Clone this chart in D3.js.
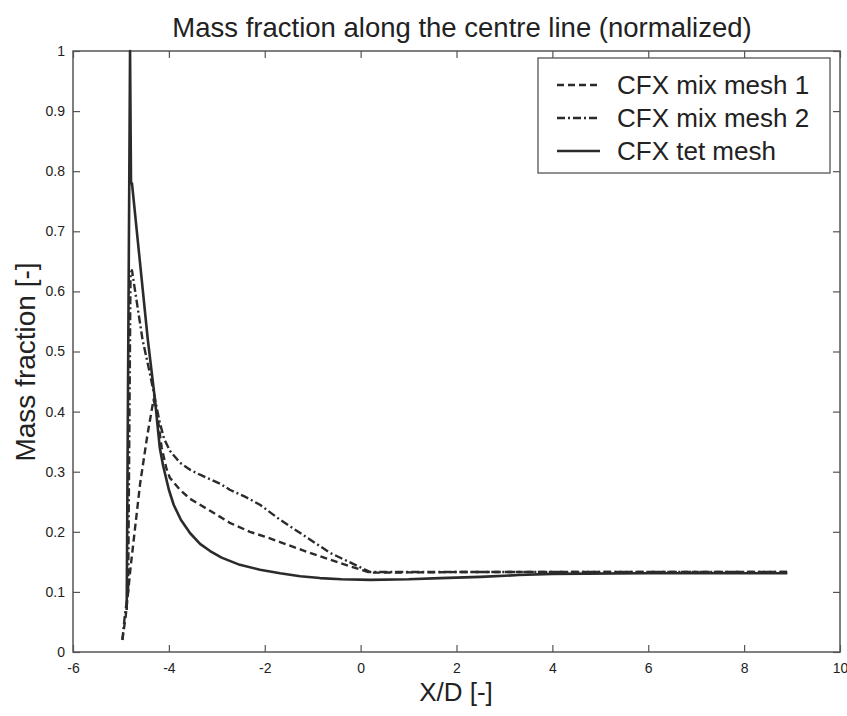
<!DOCTYPE html>
<html><head><meta charset="utf-8">
<script src="https://cdn.jsdelivr.net/npm/d3@7"></script>
<style>body{margin:0;background:#fff}svg{display:block}text{font-family:"Liberation Sans",Arial,sans-serif;fill:#222}</style>
</head><body><svg id="c" width="847" height="716"></svg>
<script>
const title = "Mass fraction along the centre line (normalized)";
const xLabel = "X/D [-]";
const yLabel = "Mass fraction [-]";
const xTicks = [-6,-4,-2,0,2,4,6,8,10];
const yTicks = [0,0.1,0.2,0.3,0.4,0.5,0.6,0.7,0.8,0.9,1];
const seriesNames = ["CFX mix mesh 1","CFX mix mesh 2","CFX tet mesh"];
const mesh1 = [[-4.97,0.02],[-4.9,0.06],[-4.8,0.14],[-4.6,0.28],[-4.45,0.36],[-4.32,0.42],[-4.25,0.4],[-4.15,0.34],[-4.05,0.305],[-3.98,0.29],[-3.77,0.27],[-3.56,0.255],[-3.35,0.245],[-3.14,0.235],[-2.73,0.215],[-2.31,0.2],[-2,0.192],[-1.68,0.183],[-1.3,0.172],[-1.06,0.165],[-0.43,0.148],[0.2,0.132],[2,0.133],[4,0.133],[6,0.133],[8.9,0.133]];
const mesh2 = [[-4.97,0.02],[-4.92,0.06],[-4.85,0.1],[-4.8,0.63],[-4.77,0.635],[-4.55,0.52],[-4.4,0.465],[-4.3,0.425],[-4.2,0.385],[-4.1,0.355],[-3.98,0.335],[-3.77,0.315],[-3.55,0.303],[-3.35,0.295],[-2.93,0.28],[-2.73,0.27],[-2.4,0.258],[-2.1,0.245],[-1.68,0.22],[-1.26,0.198],[-0.64,0.165],[0.2,0.133],[2,0.133],[4,0.133],[6,0.133],[8.9,0.133]];
const tet = [[-4.88,0.07],[-4.81,1.0],[-4.79,0.78],[-4.77,0.78],[-4.44,0.52],[-4.29,0.42],[-4.19,0.34],[-4.12,0.31],[-4.0,0.27],[-3.9,0.245],[-3.75,0.22],[-3.56,0.198],[-3.35,0.18],[-3.14,0.168],[-2.9,0.157],[-2.52,0.145],[-2.1,0.137],[-1.68,0.131],[-1.26,0.126],[-0.85,0.123],[-0.4,0.121],[0.2,0.12],[1,0.121],[1.66,0.123],[2.5,0.125],[3.3,0.128],[4,0.13],[6,0.131],[8.9,0.131]];
const seriesData = [mesh1, mesh2, tet];
const dashes = ["7,4","8,3,2,3",null];

const svg = d3.select("#c");
const L=73,R=840,T=51,B=652;
const x = d3.scaleLinear().domain([-6,10]).range([L,R]);
const y = d3.scaleLinear().domain([0,1]).range([B,T]);
const axCol="#555";

svg.append("rect").attr("x",L).attr("y",T).attr("width",R-L).attr("height",B-T)
  .attr("fill","none").attr("stroke",axCol).attr("stroke-width",1.5);

const fmt = d => String(+(+d).toFixed(1));
const styleTicks = g=>{g.select(".domain").remove();g.selectAll("line").attr("stroke",axCol).attr("stroke-width",1.2);g.selectAll("text").style("font-size","14px").attr("fill","#222");};
svg.append("g").attr("transform",`translate(0,${B})`)
  .call(d3.axisBottom(x).tickValues(xTicks).tickSize(-7).tickPadding(11).tickFormat(fmt)).call(styleTicks);
svg.append("g").attr("transform",`translate(0,${T})`)
  .call(d3.axisTop(x).tickValues(xTicks).tickSize(-7).tickFormat("")).call(styleTicks);
svg.append("g").attr("transform",`translate(${L},0)`)
  .call(d3.axisLeft(y).tickValues(yTicks).tickSize(-7).tickPadding(8).tickFormat(fmt)).call(styleTicks);
svg.append("g").attr("transform",`translate(${R},0)`)
  .call(d3.axisRight(y).tickValues(yTicks).tickSize(-7).tickFormat("")).call(styleTicks);

const line = d3.line().x(d=>x(d[0])).y(d=>y(d[1])).curve(d3.curveLinear);
seriesData.forEach((s,i)=>{
  svg.append("path").datum(s).attr("d",line).attr("fill","none")
    .attr("stroke","#2b2b2b").attr("stroke-width",i===2?2.6:2.4)
    .attr("stroke-dasharray",dashes[i]).attr("stroke-linejoin","round");
});

svg.append("text").attr("x",462).attr("y",37).attr("text-anchor","middle").style("font-size","27.5px").text(title);
svg.append("text").attr("x",456).attr("y",701).attr("text-anchor","middle").style("font-size","26px").text(xLabel);
svg.append("text").attr("transform","translate(35,362) rotate(-90)").attr("text-anchor","middle").style("font-size","28px").text(yLabel);

const lg = svg.append("g");
lg.append("rect").attr("x",538).attr("y",58).attr("width",292).attr("height",115)
  .attr("fill","#fff").attr("stroke",axCol).attr("stroke-width",1.3);
seriesNames.forEach((n,i)=>{
  const yy = 85 + i*33;
  lg.append("line").attr("x1",557).attr("x2",600).attr("y1",yy).attr("y2",yy)
    .attr("stroke","#2b2b2b").attr("stroke-width",2.4).attr("stroke-dasharray",dashes[i]);
  lg.append("text").attr("x",617).attr("y",yy+9).style("font-size","26px").text(n);
});
</script></body></html>
